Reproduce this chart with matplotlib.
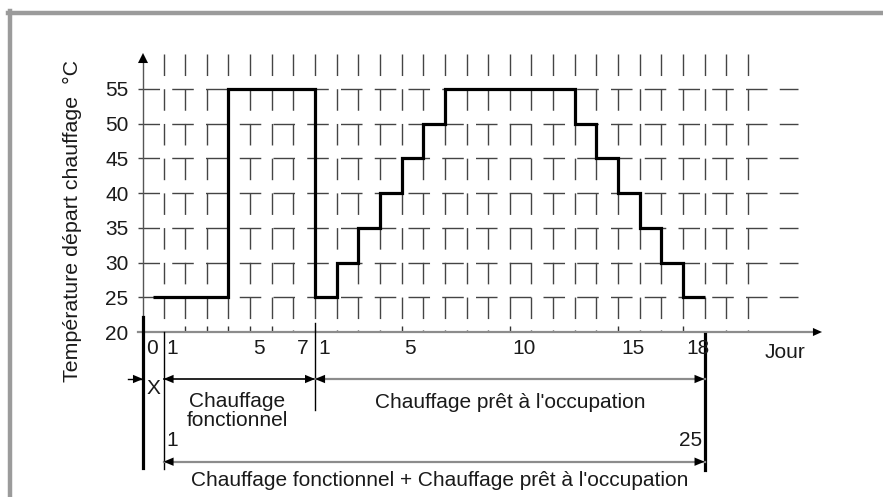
import matplotlib
matplotlib.use("Agg")
import matplotlib.pyplot as plt
from matplotlib.lines import Line2D

plt.rcParams['font.family'] = ['Liberation Sans', 'DejaVu Sans']

# data: supply temperature per day slot (t = day index from start of functional heating)
step_edges = [-0.5, 3, 7, 8, 9, 10, 11, 12, 13, 19, 20, 21, 22, 23, 24, 25]
step_temps = [25, 55, 25, 30, 35, 40, 45, 50, 55, 50, 45, 40, 35, 30, 25]
temp_levels = [20, 25, 30, 35, 40, 45, 50, 55]
grid_days = list(range(0, 28))
major_days = [1, 2, 3, 4, 5, 11, 16, 21, 24]
minor_days = [6, 7, 8, 9, 10, 12, 13, 14, 15, 17, 18, 19, 20, 22, 23, 26, 27]
day_label_pos = [-0.95, 0, 4, 6, 7, 11, 16, 21, 24]
day_labels = ['0', '1', '5', '7', '1', '5', '10', '15', '18']
phase1_end = 7
total_days = 25

AX_T = -0.95          # where the vertical axis sits (start of period X)
PX_DAY = 21.64        # pixels per day
PX_DEG = 243 / 35     # pixels per degree
TXT = '#1a1a1a'
FS = 15

def below(px):
    # temperature coordinate of a point px pixels under the x axis
    return 20 - px / PX_DEG

fig = plt.figure(figsize=(8.83, 4.97), dpi=100)
W, H = 883, 497
ax = fig.add_axes([143 / W, (H - 332) / H, (822 - 143) / W, (332 - 53) / H])
ax.set_xlim(AX_T, AX_T + (822 - 143) / PX_DAY)
ax.set_ylim(20, 20 + (332 - 53) / PX_DEG)
for s in ax.spines.values():
    s.set_visible(False)

# frame (cut by the image border on right/bottom)
fig.add_artist(Line2D([10 / W, 10 / W], [0, (H - 11) / H], color='#9b9b9b', lw=3.2))
fig.add_artist(Line2D([8 / W, 1], [(H - 13) / H, (H - 13) / H], color='#9b9b9b', lw=3.2))

# dashed grid
top_T = 60
for d in grid_days:
    ax.plot([d, d], [top_T, 20], color='#444444', lw=1.0,
            linestyle=(0, (15.5, 9.5)), clip_on=False, zorder=1)
h_start = AX_T - 5 / PX_DAY
h_end = 29.3
for lv in temp_levels[1:]:
    ax.plot([h_start, h_end], [lv, lv], color='#444444', lw=1.0,
            linestyle=(0, (15.5, 8.8)), clip_on=False, zorder=1)

# heating curve
ax.stairs(step_temps, step_edges, baseline=None, color='black', lw=2.3, zorder=3)

# axes with arrows
ax.plot([h_start, 30.1], [20, 20], color='#8c8c8c', lw=1.6, clip_on=False, zorder=2)
ax.plot([AX_T, AX_T], [20, 59.5], color='#555555', lw=1.0, clip_on=False, zorder=2)

def head(x, y, dx, dy, ln=7.2, wd=3.0):
    ax.annotate('', xy=(x, y), xytext=(-dx * ln, -dy * ln), textcoords='offset points',
                arrowprops=dict(arrowstyle='-|>,head_length=%g,head_width=%g' % (ln, wd),
                                mutation_scale=1, color='black', lw=0.01,
                                shrinkA=0, shrinkB=0),
                annotation_clip=False, zorder=4)

head(ax.get_xlim()[1], 20, 1, 0, 6.5, 2.9)
head(AX_T, ax.get_ylim()[1], 0, 1, 7.2, 3.6)

# x ticks
ax.set_xticks(major_days)
ax.set_xticks(minor_days, minor=True)
ax.tick_params(axis='x', which='major', direction='in', length=4.5, width=1,
               color='#333333', labelbottom=False)
ax.tick_params(axis='x', which='minor', direction='in', length=1.5, width=1,
               color='#333333')
ax.set_yticks(temp_levels)
ax.set_yticklabels([str(v) for v in temp_levels], fontsize=FS, color=TXT)
ax.tick_params(axis='y', length=0, pad=10.5)

for pos, lab in zip(day_label_pos, day_labels):
    ax.text(pos + 3 / PX_DAY, below(16.5), lab, ha='left', va='center',
            fontsize=FS, color=TXT, clip_on=False)
ax.text(28.7, below(21), 'Jour', ha='center', va='center', fontsize=FS, color=TXT)

ax.text(-4.23, 36.0, 'Température départ chauffage  °C', rotation=90,
        ha='center', va='center', fontsize=15.4, color=TXT, clip_on=False)

# vertical markers under the axis
ax.plot([AX_T, AX_T], [below(-15), below(136)], color='black', lw=2.3, clip_on=False)
ax.plot([0, 0], [20, below(137)], color='black', lw=1.0, clip_on=False)
ax.plot([phase1_end, phase1_end], [below(-9), below(78)], color='black', lw=1.0, clip_on=False)
ax.plot([total_days, total_days], [below(2), below(138)], color='black', lw=2.3, clip_on=False)

# period arrows, row 1
r1 = below(47)
ax.plot([AX_T - 15 / PX_DAY, AX_T], [r1, r1], color='black', lw=1.0, clip_on=False)
head(AX_T, r1, 1, 0)
ax.plot([0, phase1_end], [r1, r1], color='black', lw=1.2, clip_on=False)
head(0, r1, -1, 0)
head(phase1_end, r1, 1, 0)
ax.plot([phase1_end, total_days], [r1, r1], color='#8c8c8c', lw=1.6, clip_on=False)
head(phase1_end, r1, -1, 0)
head(total_days, r1, 1, 0)

ax.text(AX_T / 2, below(56), 'X', ha='center', va='center', fontsize=FS, color=TXT)
ax.text(phase1_end / 2 - 0.1, below(79), 'Chauffage\nfonctionnel', ha='center', va='center',
        fontsize=FS, color=TXT, linespacing=1.0)
ax.text((phase1_end + total_days) / 2, below(70), "Chauffage prêt à l'occupation",
        ha='center', va='center', fontsize=FS, color=TXT)

# row 2
r2 = below(129.7)
ax.plot([0, total_days], [r2, r2], color='#8c8c8c', lw=1.6, clip_on=False)
head(0, r2, -1, 0)
head(total_days, r2, 1, 0)
ax.text(0 + 3 / PX_DAY, below(108), '1', ha='left', va='center', fontsize=FS, color=TXT)
ax.text(total_days - 2 / PX_DAY, below(108), '25', ha='right', va='center', fontsize=FS, color=TXT)
ax.text(total_days / 2 + 0.28, below(148), "Chauffage fonctionnel + Chauffage prêt à l'occupation",
        ha='center', va='center', fontsize=FS, color=TXT)

fig.savefig('out.png', dpi=100)
